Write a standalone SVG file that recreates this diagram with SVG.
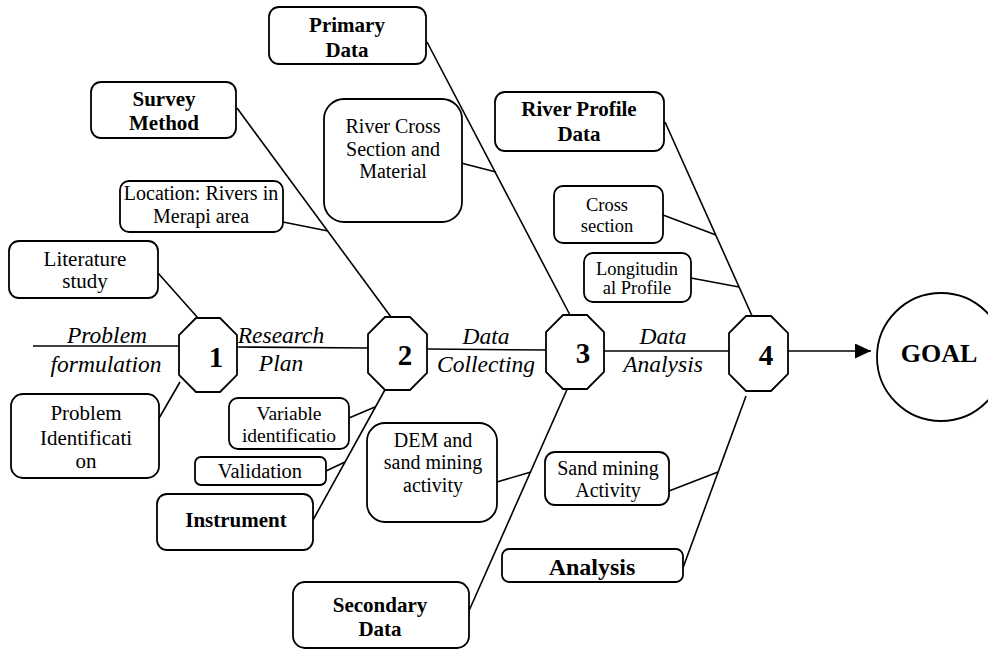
<svg xmlns="http://www.w3.org/2000/svg" width="988" height="650" viewBox="0 0 988 650" font-family="'Liberation Serif', 'Times New Roman', 'DejaVu Serif', serif">
<style>
.box{fill:#fff;stroke:#000;stroke-width:1.8}
.oct{fill:#fff;stroke:#000;stroke-width:1.8}
.ln{stroke:#000;stroke-width:1.6;fill:none}
text{font-family:'Liberation Serif', 'Times New Roman', 'DejaVu Serif', serif;fill:#000;text-anchor:middle}
.r{font-size:20px}
.b{font-size:21px;font-weight:bold}
.i{font-size:23.5px;font-style:italic}
.n{font-size:29px;font-weight:bold}
</style>
<defs>
<marker id="ah" markerWidth="16" markerHeight="15" refX="16" refY="7.5" orient="auto" markerUnits="userSpaceOnUse">
<polygon points="0,0 16,7.5 0,15" fill="#000"/>
</marker>
</defs>
<rect width="988" height="650" fill="#fff"/>
<g id="connectors">
<line class="ln" x1="33" y1="346" x2="179" y2="346"/>
<line class="ln" x1="237" y1="347" x2="368" y2="348"/>
<line class="ln" x1="427" y1="349" x2="546" y2="350"/>
<line class="ln" x1="604" y1="351" x2="729" y2="351"/>
<line class="ln" x1="788" y1="351" x2="871" y2="351" marker-end="url(#ah)"/>
<line class="ln" x1="158" y1="273" x2="198" y2="318"/>
<line class="ln" x1="158" y1="420" x2="180" y2="382"/>
<line class="ln" x1="237" y1="108" x2="391" y2="317"/>
<line class="ln" x1="283" y1="222" x2="328" y2="231"/>
<line class="ln" x1="349" y1="418" x2="375" y2="407"/>
<line class="ln" x1="326" y1="471" x2="345" y2="462"/>
<line class="ln" x1="392" y1="377" x2="313" y2="520"/>
<line class="ln" x1="427" y1="42" x2="570" y2="315"/>
<line class="ln" x1="461" y1="163" x2="496" y2="172"/>
<line class="ln" x1="573" y1="376" x2="468" y2="613"/>
<line class="ln" x1="497" y1="482" x2="531" y2="472"/>
<line class="ln" x1="665" y1="122" x2="753" y2="318"/>
<line class="ln" x1="663" y1="215" x2="716" y2="235"/>
<line class="ln" x1="691" y1="278" x2="739" y2="287"/>
<line class="ln" x1="746" y1="396" x2="680" y2="576"/>
<line class="ln" x1="669" y1="491" x2="718" y2="472"/>
</g>
<g id="labels" font-family="'Liberation Serif', serif">
<text class="i" x="107" y="343">Problem</text>
<text class="i" x="106" y="372">formulation</text>
<text class="i" x="281" y="343">Research</text>
<text class="i" x="281" y="371">Plan</text>
<text class="i" x="486" y="344">Data</text>
<text class="i" x="486" y="372">Collecting</text>
<text class="i" x="663" y="344">Data</text>
<text class="i" x="663" y="372">Analysis</text>
</g>
<g id="step1">
<polygon class="oct" points="196,318 220,318 237,335 237,375 220,392 196,392 179,375 179,335"/>
<text class="n" x="216" y="367">1</text>
</g>
<g id="step2">
<polygon class="oct" points="385,317 410,317 427,334 427,373 410,390 385,390 368,373 368,334"/>
<text class="n" x="405" y="365">2</text>
</g>
<g id="step3">
<polygon class="oct" points="563,315 587,315 604,332 604,372 587,389 563,389 546,372 546,332"/>
<text class="n" x="583" y="363">3</text>
</g>
<g id="step4">
<polygon class="oct" points="746,316 771,316 788,333 788,374 771,391 746,391 729,374 729,333"/>
<text class="n" x="766" y="365">4</text>
</g>
<g id="goal">
<ellipse cx="941" cy="357" rx="64" ry="64" fill="#fff" stroke="#000" stroke-width="1.8"/>
<text x="939" y="362" style="font-size:26px;font-weight:bold">GOAL</text>
</g>
<g id="primary-data">
<rect class="box" x="269" y="7" width="157" height="57" rx="10"/>
<text class="b" x="347" y="32">Primary</text>
<text class="b" x="347" y="57">Data</text>
</g>
<g id="survey-method">
<rect class="box" x="91" y="82" width="145" height="56" rx="10"/>
<text class="b" x="164" y="106">Survey</text>
<text class="b" x="164" y="130">Method</text>
</g>
<g id="river-cross-section">
<rect class="box" x="324" y="99" width="138" height="123" rx="20"/>
<text class="r" x="393" y="133">River Cross</text>
<text class="r" x="393" y="156">Section and</text>
<text class="r" x="393" y="178">Material</text>
</g>
<g id="river-profile-data">
<rect class="box" x="495" y="92" width="169" height="59" rx="10"/>
<text class="b" x="579" y="116">River Profile</text>
<text class="b" x="579" y="141">Data</text>
</g>
<g id="location">
<rect class="box" x="120" y="181" width="163" height="51" rx="9"/>
<text class="r" x="201" y="200">Location: Rivers in</text>
<text class="r" x="201" y="223">Merapi area</text>
</g>
<g id="cross-section">
<rect class="box" x="554" y="186" width="109" height="57" rx="9"/>
<text x="607" y="211" style="font-size:18.5px">Cross</text>
<text x="607" y="232" style="font-size:18.5px">section</text>
</g>
<g id="longitudinal-profile">
<rect class="box" x="584" y="253" width="107" height="49" rx="9"/>
<text x="637" y="275" style="font-size:18.5px">Longitudin</text>
<text x="637" y="294" style="font-size:18.5px">al Profile</text>
</g>
<g id="literature-study">
<rect class="box" x="9" y="241" width="149" height="57" rx="10"/>
<text x="85" y="266" style="font-size:21px">Literature</text>
<text x="85" y="288" style="font-size:21px">study</text>
</g>
<g id="problem-identification">
<rect class="box" x="11" y="394" width="148" height="84" rx="12"/>
<text x="86" y="420" style="font-size:21px">Problem</text>
<text x="86" y="445" style="font-size:21px">Identificati</text>
<text x="86" y="468" style="font-size:21px">on</text>
</g>
<g id="variable-identification">
<rect class="box" x="229" y="398" width="120" height="51" rx="9"/>
<text x="289" y="420" style="font-size:19.5px">Variable</text>
<text x="289" y="442" style="font-size:19.5px">identificatio</text>
</g>
<g id="validation">
<rect class="box" x="195" y="457" width="131" height="28" rx="6"/>
<text x="260" y="478" style="font-size:20.5px">Validation</text>
</g>
<g id="instrument">
<rect class="box" x="157" y="494" width="156" height="56" rx="10"/>
<text class="b" x="236" y="527">Instrument</text>
</g>
<g id="dem-sand-mining">
<rect class="box" x="367" y="423" width="130" height="99" rx="18"/>
<text class="r" x="433" y="447">DEM and</text>
<text class="r" x="433" y="469">sand mining</text>
<text class="r" x="433" y="492">activity</text>
</g>
<g id="sand-mining-activity">
<rect class="box" x="545" y="452" width="124" height="53" rx="10"/>
<text class="r" x="608" y="475">Sand mining</text>
<text class="r" x="608" y="497">Activity</text>
</g>
<g id="analysis">
<rect class="box" x="502" y="549" width="181" height="33" rx="7"/>
<text x="592" y="575" style="font-size:24px;font-weight:bold">Analysis</text>
</g>
<g id="secondary-data">
<rect class="box" x="293" y="582" width="176" height="66" rx="12"/>
<text class="b" x="380" y="612">Secondary</text>
<text class="b" x="380" y="636">Data</text>
</g>
</svg>
